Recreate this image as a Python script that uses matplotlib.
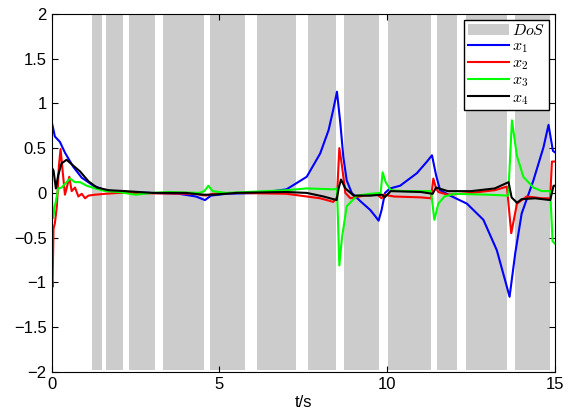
import numpy as np
import matplotlib
matplotlib.use('Agg')
import matplotlib.pyplot as plt
from matplotlib.patches import Patch
from matplotlib.lines import Line2D

plt.rcParams['font.family'] = ['Liberation Sans', 'DejaVu Sans']
plt.rcParams['mathtext.fontset'] = 'cm'

# DoS intervals (start, end) in s
dos_start = [1.22, 1.63, 2.30, 3.32, 4.72, 6.13, 7.65, 8.70, 10.01, 11.49, 12.33, 13.79]
dos_end = [1.49, 2.14, 3.08, 4.54, 5.77, 7.29, 8.48, 9.75, 11.30, 12.06, 13.57, 14.84]

# x1 (blue)
t1 = [0, 0.05, 0.1, 0.25, 0.4, 0.65, 0.9, 1.25, 1.6, 2.0, 3.0, 3.8, 4.3, 4.57, 4.75, 5.2,
      6.2, 7.0, 7.6, 8.0, 8.25, 8.39, 8.5, 8.6, 8.69, 8.79, 8.94, 9.19, 9.49, 9.64, 9.74,
      9.83, 9.93, 10.08, 10.38, 10.88, 11.18, 11.33, 11.45, 11.57, 11.87, 12.37, 12.86,
      13.26, 13.51, 13.64, 13.81, 14.0, 14.35, 14.65, 14.8, 14.93, 15.0]
x1 = [0.80, 0.72, 0.63, 0.57, 0.45, 0.29, 0.17, 0.08, 0.03, 0.01, 0.0, -0.01, -0.04, -0.08, -0.03, -0.01,
      0.0, 0.04, 0.18, 0.44, 0.70, 0.93, 1.13, 0.78, 0.40, 0.14, 0.0, -0.09, -0.19, -0.26, -0.31,
      -0.19, 0.0, 0.05, 0.08, 0.22, 0.35, 0.42, 0.20, 0.03, -0.03, -0.12, -0.30,
      -0.64, -0.98, -1.16, -0.67, -0.23, 0.14, 0.51, 0.76, 0.47, 0.45]

# x2 (red)
t2 = [0, 0.03, 0.06, 0.1, 0.16, 0.22, 0.27, 0.33, 0.4, 0.45, 0.53, 0.6, 0.7, 0.8, 0.9, 1.0, 1.1, 1.3,
      1.6, 2.0, 4.3, 4.6, 4.8, 5.5, 7.0, 7.6, 8.0, 8.39, 8.5, 8.57, 8.65, 8.75, 8.9, 9.3, 9.7,
      9.83, 9.9, 10.2, 11.0, 11.3, 11.37, 11.45, 11.52, 11.8, 12.5, 13.2, 13.56, 13.69, 13.86,
      14.15, 14.6, 14.85, 14.9, 15.0]
x2 = [-0.9, -1.05, -0.4, -0.34, -0.15, 0.30, 0.49, 0.25, -0.02, 0.05, 0.18, 0.02, 0.06, -0.04, -0.01, -0.06, -0.03, -0.02,
      -0.01, 0.0, -0.01, -0.03, -0.01, 0.0, -0.01, -0.04, -0.06, -0.10, -0.05, 0.50, 0.30, 0.0, -0.06, -0.03, -0.02,
      -0.06, -0.02, -0.04, -0.05, -0.06, 0.16, 0.05, 0.01, -0.02, 0.0, 0.03, 0.07, -0.45, -0.12,
      -0.04, -0.06, -0.06, 0.35, 0.35]

# x3 (green)
t3 = [0, 0.05, 0.1, 0.2, 0.3, 0.4, 0.55, 0.7, 0.85, 1.05, 1.3, 1.6, 2.0, 2.5, 3.0, 3.5, 4.4, 4.55,
      4.67, 4.8, 5.2, 7.0, 7.6, 8.4, 8.5, 8.53, 8.57, 8.65, 8.79, 9.1, 9.5, 9.8, 9.86, 9.95, 10.1,
      10.5, 11.3, 11.4, 11.52, 11.7, 12.0, 13.0, 13.6, 13.71, 13.86, 14.05, 14.35, 14.6, 14.85,
      14.92, 15.0]
x3 = [0.0, -0.28, -0.15, 0.05, 0.06, 0.10, 0.16, 0.12, 0.12, 0.08, 0.05, 0.02, 0.01, -0.02, 0.0, 0.01, 0.0, 0.02,
      0.08, 0.02, 0.0, 0.03, 0.05, 0.04, 0.05, -0.30, -0.81, -0.50, -0.15, -0.03, -0.01, 0.0, 0.23, 0.12, 0.03,
      0.02, 0.02, -0.30, -0.12, -0.04, -0.01, -0.02, -0.03, 0.81, 0.41, 0.18, 0.06, 0.02, 0.02,
      -0.54, -0.57]

# x4 (black)
t4 = [0, 0.06, 0.13, 0.2, 0.3, 0.45, 0.6, 0.85, 1.1, 1.35, 1.7, 2.2, 3.0, 4.0, 4.5, 4.8, 5.5, 7.0,
      7.6, 8.1, 8.49, 8.55, 8.62, 8.75, 9.0, 9.5, 9.85, 9.92, 10.1, 11.0, 11.35, 11.45, 11.8, 12.5,
      13.2, 13.61, 13.7, 13.86, 14.0, 14.4, 14.85, 14.95, 15.0]
x4 = [0.29, 0.25, 0.05, 0.20, 0.33, 0.37, 0.32, 0.24, 0.13, 0.06, 0.03, 0.02, 0.0, 0.0, -0.02, -0.02, 0.0, 0.01,
      0.0, -0.04, -0.08, 0.05, 0.15, 0.05, -0.03, -0.03, -0.02, -0.05, 0.02, 0.01, -0.01, 0.06, 0.02, 0.02,
      0.05, 0.12, -0.05, -0.11, -0.07, -0.06, -0.08, 0.08, 0.08]

fig = plt.figure(figsize=(5.66, 4.18), dpi=100)
ax = fig.add_axes([0.091, 0.110, 0.890, 0.857])

for a, b in zip(dos_start, dos_end):
    ax.axvspan(a, b, ymin=0.006, ymax=1, color='#cccccc', lw=0, zorder=0)

ax.plot(t1, x1, color='#0000ff', lw=1.5)
ax.plot(t2, x2, color='#ff0000', lw=1.5)
ax.plot(t3, x3, color='#00ff00', lw=1.5)
ax.plot(t4, x4, color='black', lw=1.5)

ax.set_xlim(0, 15)
ax.set_ylim(-2, 2)
ax.set_xticks([0, 5, 10, 15])
ax.set_yticks(np.arange(-2, 2.01, 0.5))
ax.set_yticklabels(['\u22122', '\u22121.5', '\u22121', '\u22120.5', '0', '0.5', '1', '1.5', '2'])
ax.tick_params(direction='in', top=True, right=True, labelsize=12, length=4)
ax.set_xlabel('t/s', fontsize=12, labelpad=2)

handles = [Patch(facecolor='#cccccc', edgecolor='none'),
           Line2D([], [], color='#0000ff', lw=1.5),
           Line2D([], [], color='#ff0000', lw=1.5),
           Line2D([], [], color='#00ff00', lw=1.5),
           Line2D([], [], color='black', lw=1.5)]
labels = ['$DoS$', '$x_1$', '$x_2$', '$x_3$', '$x_4$']
leg = ax.legend(handles, labels, loc='upper right', fontsize=11.5, fancybox=False,
                framealpha=1, edgecolor='black', borderpad=0.2, labelspacing=0.02,
                handlelength=2.6, handletextpad=0.2, borderaxespad=0.4)
leg.get_frame().set_linewidth(1.0)

fig.savefig('out.png', dpi=100)
